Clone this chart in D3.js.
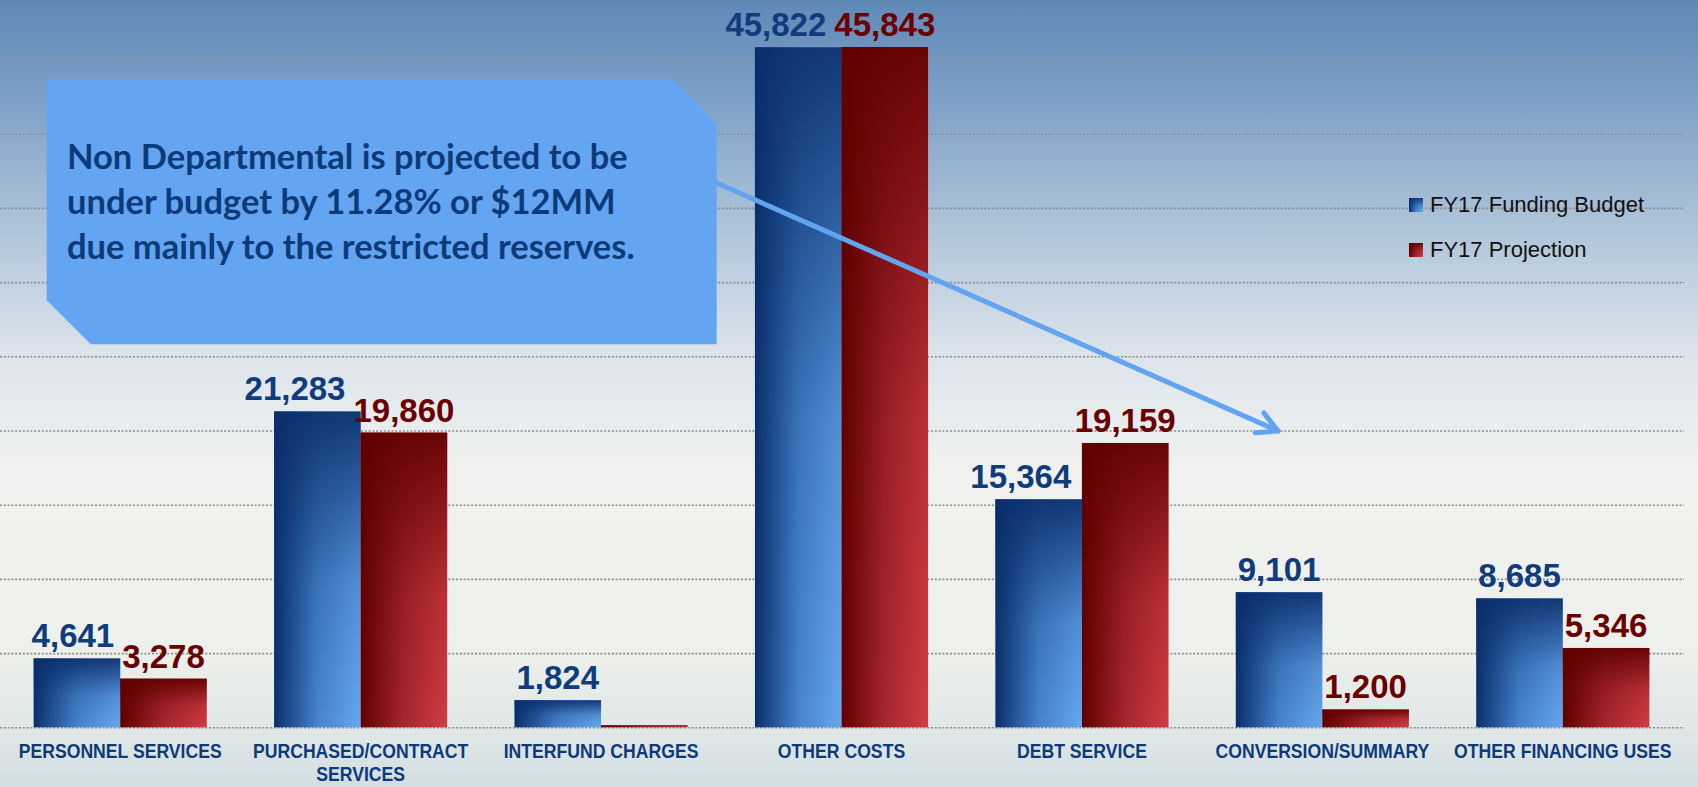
<!DOCTYPE html>
<html>
<head>
<meta charset="utf-8">
<title>Non Departmental FY17</title>
<script src="https://cdnjs.cloudflare.com/ajax/libs/d3/7.8.5/d3.min.js"></script>
<style>
  html, body { margin: 0; padding: 0; overflow: hidden; }
  svg { display: block; }
</style>
</head>
<body>
<script>
var categories = ["PERSONNEL SERVICES", "PURCHASED/CONTRACT SERVICES", "INTERFUND CHARGES",
    "OTHER COSTS", "DEBT SERVICE", "CONVERSION/SUMMARY", "OTHER FINANCING USES"];
var budget = [4641, 21283, 1824, 45822, 15364, 9101, 8685];
var projection = [3278, 19860, 0, 45843, 19159, 1200, 5346];
var seriesNames = ["FY17 Funding Budget", "FY17 Projection"];
var gridTicks = d3.range(0, 50000, 5000);
var calloutLines = ["Non Departmental is projected to be",
    "under budget by 11.28% or $12MM",
    "due mainly to the restricted reserves."];

var width = 1698,
    height = 787;

var svg = d3.select('body')
    .append('svg')
    .attr('width', width)
    .attr('height', height);

var defs = svg.append('defs');

// background
var bg = defs.append('linearGradient').attr('id', 'bg')
    .attr('x1', 0).attr('y1', 0).attr('x2', 0).attr('y2', 1);
[[0, '#5f89b7'], [0.12, '#7c9fc6'], [0.28, '#acc2d8'], [0.45, '#dce4eb'],
 [0.6, '#f1f2ef'], [0.82, '#eef0eb'], [0.93, '#e0e7e6'], [1, '#d2dee1']]
    .forEach(function (s) {
        bg.append('stop').attr('offset', s[0]).attr('stop-color', s[1]);
    });

// bar gradients: horizontal colour ramp plus a dark overlay coming from the top
var colors = {
    blue: { dark: '#0a2e6c', mid: '#4684cb', light: '#66a8f0' },
    red: { dark: '#600000', mid: '#a5262c', light: '#d23c43' }
};
Object.keys(colors).forEach(function (k) {
    var c = colors[k];
    var h = defs.append('linearGradient').attr('id', k + 'H')
        .attr('x1', 0).attr('y1', 0).attr('x2', 1).attr('y2', 0);
    h.append('stop').attr('offset', 0).attr('stop-color', c.dark);
    h.append('stop').attr('offset', 0.5).attr('stop-color', c.mid);
    h.append('stop').attr('offset', 1).attr('stop-color', c.light);
    var v = defs.append('linearGradient').attr('id', k + 'V')
        .attr('x1', 0).attr('y1', 0).attr('x2', 0).attr('y2', 1);
    v.append('stop').attr('offset', 0).attr('stop-color', c.dark).attr('stop-opacity', 0.92);
    v.append('stop').attr('offset', 0.55).attr('stop-color', c.dark).attr('stop-opacity', 0.2);
    v.append('stop').attr('offset', 1).attr('stop-color', c.dark).attr('stop-opacity', 0);
});

svg.append('rect')
    .attr('width', width)
    .attr('height', height)
    .attr('fill', 'url(#bg)');

var x = d3.scaleBand()
    .domain(categories)
    .range([0, 1683])
    .paddingInner(0.28)
    .paddingOuter(0.14);

var x1 = d3.scaleBand()
    .domain(seriesNames)
    .range([0, x.bandwidth()]);

var y = d3.scaleLinear()
    .domain([0, 50000])
    .range([727.3, -14.7]);

// dotted gridlines
var grid = svg.append('g')
    .call(d3.axisRight(y).tickValues(gridTicks).tickSize(1684).tickFormat(''));
grid.select('.domain').remove();
grid.selectAll('line')
    .attr('stroke', '#8c8c8c')
    .attr('stroke-width', 1.6)
    .attr('stroke-dasharray', '2 1.8');

var rows = categories.map(function (c, i) {
    return { cat: c, values: [budget[i], projection[i]] };
});
var keys = ['blue', 'red'];
var labelColors = ['#0f3c7d', '#6a0000'];

var groups = svg.append('g').selectAll('g')
    .data(rows)
    .enter()
    .append('g')
    .attr('transform', function (d) { return 'translate(' + x(d.cat) + ',0)'; });

var bars = groups.selectAll('g.bar')
    .data(function (d) { return d.values.map(function (v, j) { return { v: v, j: j }; }); })
    .enter()
    .append('g')
    .attr('class', 'bar');

function barTop(d) { return Math.min(y(d.v), y(0) - 2); }
function barH(d) { return y(0) - barTop(d); }

['H', 'V'].forEach(function (layer) {
    bars.append('rect')
        .attr('x', function (d) { return x1(seriesNames[d.j]); })
        .attr('y', barTop)
        .attr('width', x1.bandwidth())
        .attr('height', barH)
        .attr('fill', function (d) { return 'url(#' + keys[d.j] + layer + ')'; });
});

bars.filter(function (d) { return d.v > 0; })
    .append('text')
    .attr('class', function (d) { return 'val s' + d.j; })
    .attr('x', function (d) { return x1(seriesNames[d.j]) + x1.bandwidth() / 2; })
    .attr('y', function (d) { return y(d.v) - 11; })
    .attr('text-anchor', 'middle')
    .attr('font-family', 'Liberation Sans, Arial, sans-serif')
    .attr('font-weight', 'bold')
    .attr('font-size', 33)
    .attr('fill', function (d) { return labelColors[d.j]; })
    .text(function (d) { return d3.format(',')(d.v); });

// push the budget label left when it runs into the projection label or bar
groups.each(function (d) {
    var g = d3.select(this);
    var a = g.select('text.s0').node(), b = g.select('text.s1').node();
    if (!a) return;
    var ba = a.getBBox();
    var shift = 0;
    if (b) {
        var bb = b.getBBox();
        var vOverlap = ba.y < bb.y + bb.height && bb.y < ba.y + ba.height;
        if (vOverlap) shift = Math.max(shift, ba.x + ba.width + 8 - bb.x);
    }
    var redX = x1(seriesNames[1]);
    if (ba.y + ba.height > barTop({ v: d.values[1] })) {
        shift = Math.max(shift, ba.x + ba.width + 10 - redX);
    }
    if (shift > 0) d3.select(a).attr('x', +d3.select(a).attr('x') - shift);
});

// category labels, wrapped when long, condensed horizontally
var catText = groups.append('text')
    .attr('text-anchor', 'middle')
    .attr('font-family', 'Liberation Sans, Arial, sans-serif')
    .attr('font-weight', 'bold')
    .attr('font-size', 21)
    .attr('fill', '#0c3a7a')
    .attr('transform', 'translate(' + x.bandwidth() / 2 + ',0) scale(0.84,1)');
catText.each(function (d) {
    var lines = d.cat.length > 20
        ? [d.cat.slice(0, d.cat.lastIndexOf(' ')), d.cat.slice(d.cat.lastIndexOf(' ') + 1)]
        : [d.cat];
    var t = d3.select(this);
    lines.forEach(function (l, i) {
        t.append('tspan')
            .attr('x', 0)
            .attr('y', 758 + i * 23.5)
            .text(l);
    });
});

// legend
var legend = svg.append('g').attr('transform', 'translate(1409,198)');
seriesNames.forEach(function (name, i) {
    var lg = legend.append('g').attr('transform', 'translate(0,' + i * 45 + ')');
    ['H', 'V'].forEach(function (layer) {
        lg.append('rect')
            .attr('width', 14)
            .attr('height', 14)
            .attr('fill', 'url(#' + keys[i] + layer + ')');
    });
    lg.append('text')
        .attr('x', 21)
        .attr('y', 14)
        .attr('font-family', 'Liberation Sans, Arial, sans-serif')
        .attr('font-size', 22)
        .attr('fill', '#111')
        .text(name);
});

// callout box with cut corners
var bx0 = 46.7, bx1 = 716.7, by0 = 79.3, by1 = 344.3, cut = 44;
svg.append('path')
    .attr('d', d3.line()([[bx0, by0], [bx1 - cut, by0], [bx1, by0 + cut], [bx1, by1],
        [bx0 + cut, by1], [bx0, by1 - cut]]) + 'Z')
    .attr('fill', '#63a5f1');

svg.append('text')
    .attr('font-family', 'Lato, Open Sans, sans-serif')
    .attr('font-weight', 'bold')
    .attr('font-size', 34.5)
    .attr('fill', '#0d3a78')
    .selectAll('tspan')
    .data(calloutLines)
    .enter()
    .append('tspan')
    .attr('x', 67)
    .attr('y', function (d, i) { return 169 + i * 45; })
    .text(function (d) { return d; });

// arrow
var tip = [1278, 431], start = [717, 183];
var ang = Math.atan2(tip[1] - start[1], tip[0] - start[0]);
var arm = 23, spread = 28 * Math.PI / 180;
var arrow = svg.append('g')
    .attr('stroke', '#62a4f0')
    .attr('stroke-width', 5)
    .attr('stroke-linecap', 'round')
    .attr('stroke-linejoin', 'round')
    .attr('fill', 'none');
arrow.append('path').attr('d', d3.line()([start, tip]));
arrow.append('path').attr('d', d3.line()([
    [tip[0] - arm * Math.cos(ang - spread), tip[1] - arm * Math.sin(ang - spread)],
    tip,
    [tip[0] - arm * Math.cos(ang + spread), tip[1] - arm * Math.sin(ang + spread)]
]));
</script>
</body>
</html>
